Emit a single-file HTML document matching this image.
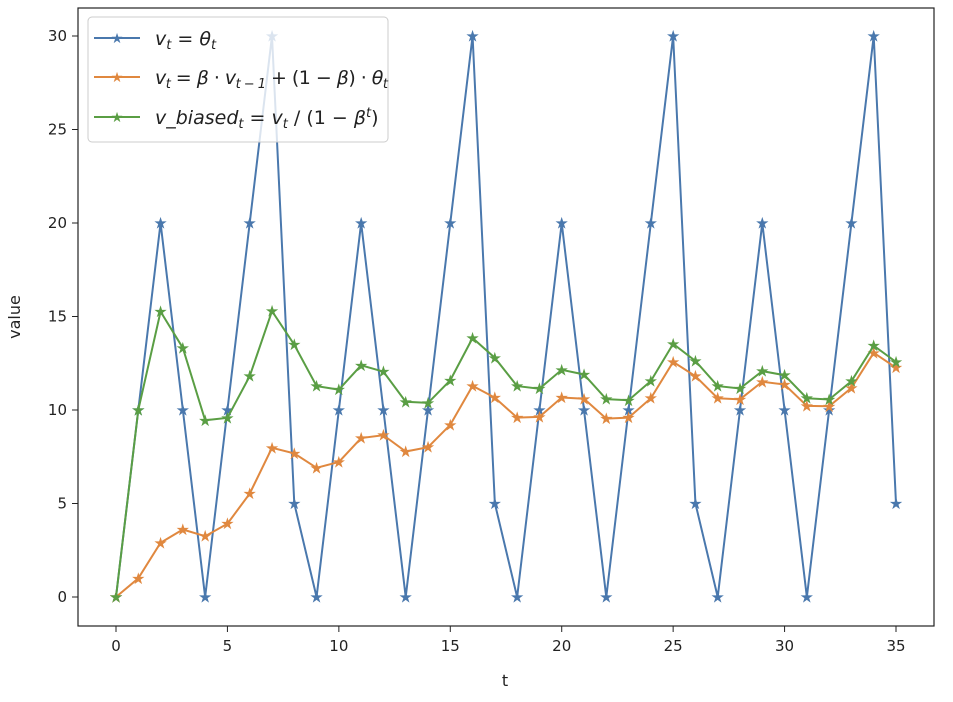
<!DOCTYPE html>
<html><head><meta charset="utf-8"><style>
body{margin:0;background:#fff;}
svg{display:block;font-family:"DejaVu Sans","Liberation Sans",sans-serif;}
</style></head><body>
<svg id="chart" width="953" height="702">
<rect x="0" y="0" width="953" height="702" fill="#fff"/>
<g id="plot"></g>
<rect x="78" y="8" width="856" height="618" fill="none" stroke="#222" stroke-width="1.2"/>
<g id="ticks"></g>
<text x="505" y="686" font-size="16" text-anchor="middle" fill="#222">t</text>
<text x="20" y="317" font-size="16" text-anchor="middle" fill="#222" transform="rotate(-90 20 317)">value</text>
<g>
<rect x="88" y="17" width="300" height="125" rx="4" fill="#fff" fill-opacity="0.8" stroke="#ccc"/>
<g>
<line x1="94" y1="38" x2="140" y2="38" stroke="#4a78ad" stroke-width="2"/>
<text x="117" y="43" font-size="14" text-anchor="middle" fill="#4a78ad">★</text>
<text x="155" y="45" font-size="19" fill="#222"><tspan font-style="italic">v</tspan><tspan font-size="13" font-style="italic" dy="4">t</tspan><tspan dy="-4"> = </tspan><tspan font-style="italic">θ</tspan><tspan font-size="13" font-style="italic" dy="4">t</tspan></text>
</g>
<g>
<line x1="94" y1="77" x2="140" y2="77" stroke="#e0883f" stroke-width="2"/>
<text x="117" y="82" font-size="14" text-anchor="middle" fill="#e0883f">★</text>
<text x="155" y="84" font-size="19" fill="#222" textLength="233" lengthAdjust="spacing"><tspan font-style="italic">v</tspan><tspan font-size="13" font-style="italic" dy="4">t</tspan><tspan dy="-4"> = </tspan><tspan font-style="italic">β</tspan> · <tspan font-style="italic">v</tspan><tspan font-size="13" font-style="italic" dy="4">t − 1</tspan><tspan dy="-4"> + (1 − </tspan><tspan font-style="italic">β</tspan>) · <tspan font-style="italic">θ</tspan><tspan font-size="13" font-style="italic" dy="4">t</tspan></text>
</g>
<g>
<line x1="94" y1="117" x2="140" y2="117" stroke="#5a9e44" stroke-width="2"/>
<text x="117" y="122" font-size="14" text-anchor="middle" fill="#5a9e44">★</text>
<text x="155" y="124" font-size="19" fill="#222"><tspan font-style="italic">v_biased</tspan><tspan font-size="13" font-style="italic" dy="4">t</tspan><tspan dy="-4"> = </tspan><tspan font-style="italic">v</tspan><tspan font-size="13" font-style="italic" dy="4">t</tspan><tspan dy="-4"> / (1 − </tspan><tspan font-style="italic">β</tspan><tspan font-size="13" font-style="italic" dy="-7">t</tspan><tspan dy="7">)</tspan></text>
</g>
</g>
</svg>
<script>
const tValues = [0,1,2,3,4,5,6,7,8,9,10,11,12,13,14,15,16,17,18,19,20,21,22,23,24,25,26,27,28,29,30,31,32,33,34,35];
const thetaValues = [0,10,20,10,0,10,20,30,5,0,10,20,10,0,10,20,30,5,0,10,20,10,0,10,20,30,5,0,10,20,10,0,10,20,30,5];
const emaValues = [0,1.0,2.9,3.61,3.25,3.92,5.53,7.98,7.68,6.91,7.22,8.50,8.65,7.78,8.01,9.21,11.29,10.66,9.59,9.63,10.67,10.60,9.54,9.59,10.63,12.57,11.81,10.63,10.57,11.51,11.36,10.22,10.20,11.18,13.06,12.26];
const biasedValues = [0,10,15.26,13.32,9.45,9.58,11.81,15.29,13.49,11.28,11.09,12.39,12.05,10.44,10.38,11.59,13.85,12.79,11.28,11.14,12.15,11.90,10.58,10.52,11.55,13.54,12.62,11.28,11.15,12.08,11.86,10.63,10.56,11.54,13.44,12.57];
const xTicks = [0,5,10,15,20,25,30,35];
const yTicks = [0,5,10,15,20,25,30];

const NS = "http://www.w3.org/2000/svg";
const xS = t => 116 + t * (896 - 116) / 35;
const yS = v => 597 - v * (597 - 36) / 30;
const plot = document.getElementById('plot');
const ticks = document.getElementById('ticks');

function series(vals, color, name) {
  const g = document.createElementNS(NS, 'g');
  
  
  const pl = document.createElementNS(NS, 'polyline');
  pl.setAttribute('points', vals.map((v, i) => xS(tValues[i]) + ',' + yS(v)).join(' '));
  pl.setAttribute('fill', 'none');
  pl.setAttribute('stroke', color);
  pl.setAttribute('stroke-width', '2');
  
  
  g.appendChild(pl);
  vals.forEach((v, i) => {
    const m = document.createElementNS(NS, 'text');
    m.setAttribute('x', xS(tValues[i]));
    m.setAttribute('y', yS(v) + 5.5);
    m.setAttribute('font-size', '16');
    m.setAttribute('text-anchor', 'middle');
    m.setAttribute('fill', color);
    m.textContent = '★';
    
    
    g.appendChild(m);
  });
  plot.appendChild(g);
}
series(thetaValues, '#4a78ad', 'theta-series');
series(emaValues, '#e0883f', 'ema-series');
series(biasedValues, '#5a9e44', 'biased-series');

xTicks.forEach(t => {
  const l = document.createElementNS(NS, 'line');
  l.setAttribute('x1', xS(t)); l.setAttribute('x2', xS(t));
  l.setAttribute('y1', 626); l.setAttribute('y2', 632);
  l.setAttribute('stroke', '#222');
  
  
  ticks.appendChild(l);
  const tx = document.createElementNS(NS, 'text');
  tx.setAttribute('x', xS(t)); tx.setAttribute('y', 651);
  tx.setAttribute('font-size', '15'); tx.setAttribute('text-anchor', 'middle');
  tx.setAttribute('fill', '#222');
  tx.textContent = t;
  
  
  ticks.appendChild(tx);
});
yTicks.forEach(v => {
  const l = document.createElementNS(NS, 'line');
  l.setAttribute('x1', 72); l.setAttribute('x2', 78);
  l.setAttribute('y1', yS(v)); l.setAttribute('y2', yS(v));
  l.setAttribute('stroke', '#222');
  
  
  ticks.appendChild(l);
  const tx = document.createElementNS(NS, 'text');
  tx.setAttribute('x', 67); tx.setAttribute('y', yS(v) + 5);
  tx.setAttribute('font-size', '15'); tx.setAttribute('text-anchor', 'end');
  tx.setAttribute('fill', '#222');
  tx.textContent = v;
  
  
  ticks.appendChild(tx);
});
</script>
</body></html>
